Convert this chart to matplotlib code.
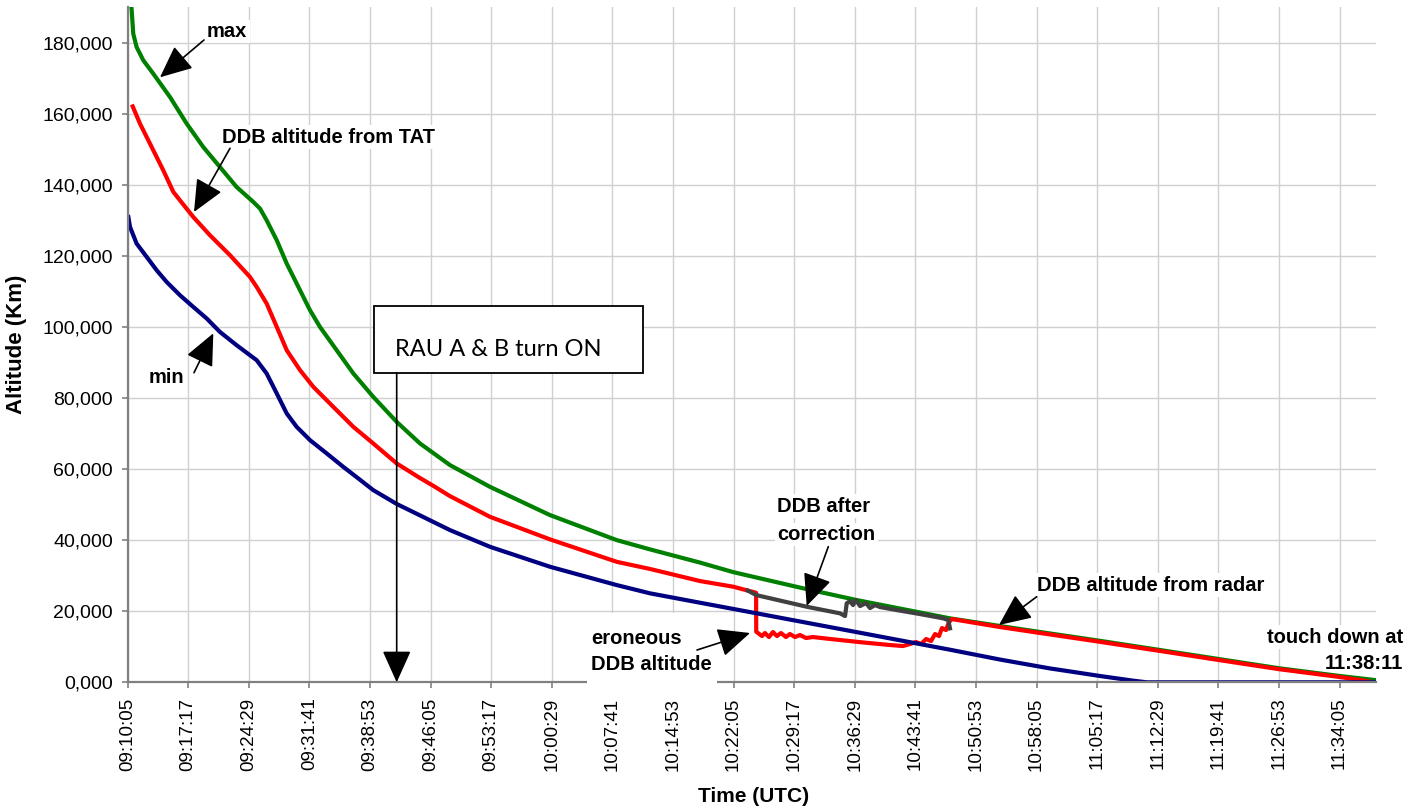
import matplotlib
matplotlib.use('Agg')
import matplotlib.pyplot as plt
from matplotlib.patches import Rectangle

plt.rcParams['font.family'] = ['Liberation Sans', 'DejaVu Sans']

W, H = 1419, 810

# time in seconds after 09:10:05, altitude as shown on the chart
max_t = [10, 30, 41, 65, 113, 184, 303, 422, 540, 659, 778, 897, 945, 992, 1064, 1135,
         1230, 1301, 1372, 1491, 1610, 1752, 1919, 2085, 2299, 2584, 3012, 3487, 3725,
         4081, 4319, 4818, 5198, 5863, 6220, 6493, 6928, 7360, 7779, 8211, 8643, 8900]
max_alt = [197000, 189100, 182560, 178800, 175050, 171300, 164730, 157250, 150670, 145040,
           139410, 135200, 133330, 130040, 124420, 117860, 110350, 104730, 100030, 93480,
           86920, 80340, 73300, 67230, 61130, 55020, 47060, 40030, 37410, 33700, 31000,
           26440, 23150, 18000, 15840, 14230, 11700, 9090, 6550, 3940, 1770, 600]

tat_t = [37, 89, 184, 255, 327, 374, 469, 588, 731, 873, 921, 992, 1064, 1135, 1230, 1325,
         1467, 1610, 1752, 1919, 2085, 2180, 2299, 2584, 3012, 3487, 3725, 4081, 4319, 4423,
         4481,
         4482, 4523, 4544, 4573, 4601, 4630, 4658, 4694, 4722, 4758, 4794, 4837, 4886, 5008,
         5222, 5436, 5528, 5578, 5621, 5657, 5693, 5728, 5757, 5785, 5806, 5835, 5856, 5878,
         6220, 6493, 6928, 7360, 7779, 8211, 8643, 8843]
tat_alt = [162100, 157250, 149740, 144110, 138010, 135670, 130970, 125830, 120200, 114100,
           111280, 106610, 100030, 93480, 87850, 83150, 77530, 71900, 67230, 61600, 57500,
           55300, 52400, 46580, 40230, 33920, 31900, 28500, 26900, 25800, 25200,
           14230, 13020, 13870, 12740, 14150, 13020, 13870, 12740, 13590, 12740, 13300,
           12460, 12740, 12200, 11300, 10490, 10210, 10770, 11340, 10770, 12180, 11620,
           13590, 13020, 15270, 14710, 16960, 17800,
           15550, 13950, 11420, 8820, 6270, 3680, 1480, 300]

corr_t = [4423, 4481, 4842, 5079, 5115, 5127, 5150, 5172, 5193, 5222, 5265, 5293, 5329,
          5364, 5483, 5649, 5815, 5851, 5863]
corr_alt = [25800, 24560, 21270, 19410, 18650, 22220, 22870, 21740, 23150, 21460, 22300,
            20900, 21740, 21180, 20340, 19210, 18000, 17520, 15190]

min_t = [6, 18, 65, 137, 208, 279, 374, 469, 565, 659, 778, 873, 921, 992, 1064, 1135,
         1206, 1301, 1420, 1538, 1645, 1752, 1919, 2299, 2584, 3012, 3487, 3725, 4081,
         4437, 5150, 5863, 6220, 6576, 6695, 6933, 7170, 7266, 8900]
min_alt = [130970, 128160, 123490, 119720, 115980, 112690, 108950, 105660, 102390, 98620,
           94880, 92070, 90660, 86920, 81300, 75670, 71900, 68160, 64420, 60650, 57390,
           54090, 50200, 42840, 38140, 32520, 27370, 25040, 22400, 19770, 14480, 9170,
           6400, 3900, 3200, 1770, 450, 0, 0]

time_labels = ['09:10:05', '09:17:17', '09:24:29', '09:31:41', '09:38:53', '09:46:05',
               '09:53:17', '10:00:29', '10:07:41', '10:14:53', '10:22:05', '10:29:17',
               '10:36:29', '10:43:41', '10:50:53', '10:58:05', '11:05:17', '11:12:29',
               '11:19:41', '11:26:53', '11:34:05']
alt_labels = ['0,000', '20,000', '40,000', '60,000', '80,000', '100,000', '120,000',
              '140,000', '160,000', '180,000']


def fp(x, y):
    # pixel position (from top-left) -> figure fraction
    return (x / W, 1 - y / H)


fig = plt.figure(figsize=(W / 100, H / 100), dpi=100)
ax = fig.add_axes([127.5 / W, 1 - 682.3 / H, (1376 - 127.5) / W, 675 / H])

ax.plot(max_t, max_alt, color='#008000', lw=3, zorder=2)
ax.plot(tat_t, tat_alt, color='#ff0000', lw=3, zorder=2.1)
ax.plot(min_t, min_alt, color='#000080', lw=3, zorder=2.2)
ax.plot(corr_t, corr_alt, color='#404040', lw=3, zorder=2.3)

ax.set_xlim(0, 8900)
ax.set_ylim(0, 190000)
ax.set_xticks([432 * i for i in range(len(time_labels))])
ax.set_xticklabels(time_labels)
ax.set_yticks([20000 * i for i in range(len(alt_labels))])
ax.set_yticklabels(alt_labels)

ax.set_axisbelow(True)
ax.grid(True, color='#d0d0d0', lw=1)
for s in ['top', 'right']:
    ax.spines[s].set_visible(False)
for s in ['left', 'bottom']:
    ax.spines[s].set_color('#808080')
    ax.spines[s].set_linewidth(1.6)
ax.tick_params(axis='x', direction='out', length=4, width=1.2, color='#808080',
               pad=7, labelsize=13.5, labelrotation=90)
ax.tick_params(axis='y', direction='out', length=4, width=1.2, color='#808080',
               pad=6.5, labelsize=14)

fig.text(754 / W, 1 - 796 / H, 'Time (UTC)', ha='center', va='center',
         fontsize=15, fontweight='bold')
fig.text(17 / W, 1 - 344 / H, 'Altitude (Km)', ha='center', va='center',
         rotation=90, fontsize=16, fontweight='bold')

# annotations
box = dict(boxstyle='square,pad=0.12', fc='white', ec='none')
arrow = dict(arrowstyle='-|>,head_length=1.0,head_width=0.45', mutation_scale=20,
             color='black', lw=1.2, shrinkA=0, shrinkB=0)

labels = [
    ('max', 207, 37, 'left'),
    ('DDB altitude from TAT', 222, 142.7, 'left'),
    ('min', 149, 382.7, 'left'),
    ('DDB after', 777, 511.7, 'left'),
    ('correction', 777, 540, 'left'),
    ('DDB altitude from radar', 1037, 590.7, 'left'),
    ('touch down at', 1403, 642.7, 'right'),
    ('11:38:11', 1403, 669.3, 'right'),
]
for txt, x, y, ha in labels:
    ax.text(*fp(x, y), txt, transform=fig.transFigure, ha=ha, va='baseline',
            fontsize=14.5, fontweight='bold', bbox=box, zorder=1.8)

# white panel holding the "eroneous" note (covers the axis line)
ax.add_patch(Rectangle(fp(587, 690), 130 / W, 77 / H, transform=fig.transFigure,
                       facecolor='white', edgecolor='none', zorder=3, clip_on=False))
ax.text(*fp(591, 644), 'eroneous', transform=fig.transFigure, ha='left', va='baseline',
        fontsize=14.5, fontweight='bold', zorder=3.5)
ax.text(*fp(591, 670), 'DDB altitude', transform=fig.transFigure, ha='left',
        va='baseline', fontsize=14.5, fontweight='bold', zorder=3.5)

arrows = [
    ((204, 40), (160, 77.3)),
    ((230, 148.3), (194, 212)),
    ((194, 372.7), (213.3, 333.3)),
    ((828.3, 546.7), (806.7, 606)),
    ((1036.7, 596.7), (999, 625)),
    ((697, 650), (750, 633)),
    ((396.7, 372.7), (396.7, 682.3)),
]
for tail, head in arrows:
    ax.annotate('', xy=fp(*head), xytext=fp(*tail), xycoords='figure fraction',
                textcoords='figure fraction', arrowprops=arrow, zorder=6)

# RAU event box
ax.add_patch(Rectangle(fp(374, 372.7), 269 / W, 67 / H, transform=fig.transFigure,
                       facecolor='white', edgecolor='black', lw=1.3, zorder=5,
                       clip_on=False))
ax.text(*fp(395, 356), 'RAU A & B turn ON', transform=fig.transFigure, ha='left',
        va='baseline', fontsize=17, family=['Lato', 'DejaVu Sans'], zorder=5.5)

fig.savefig('out.png', dpi=100)
